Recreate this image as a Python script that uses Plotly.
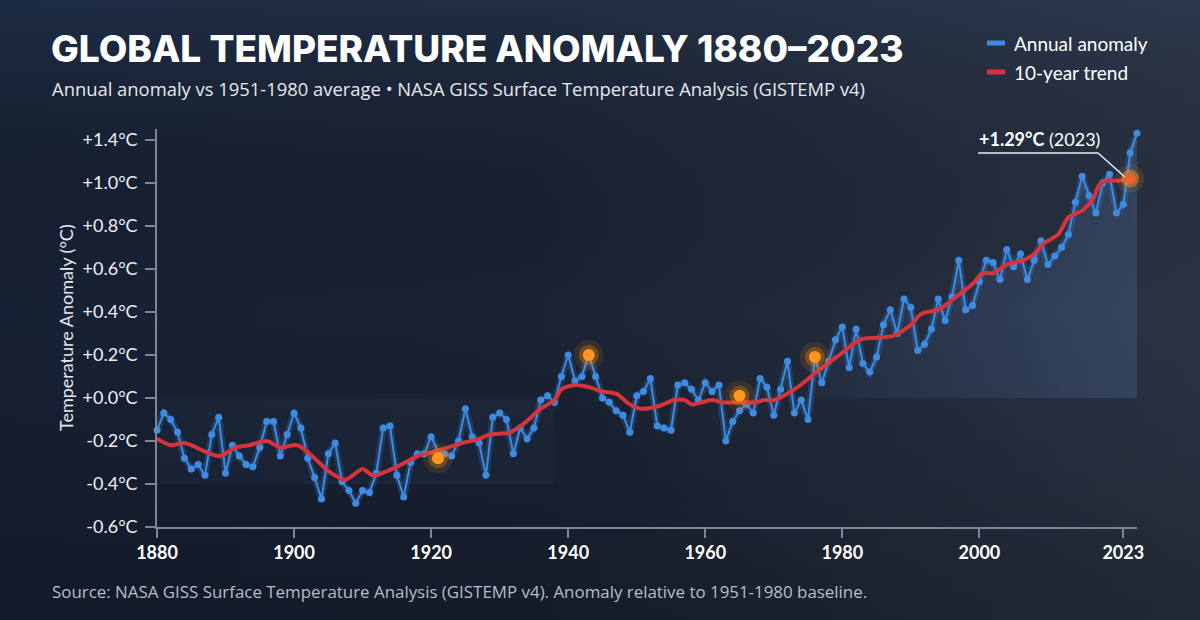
import base64
import plotly.graph_objects as go

# ---------------- data ----------------
years = list(range(1880, 2024))
anomaly = [
    -0.15, -0.07, -0.10, -0.16, -0.28, -0.33, -0.31, -0.36, -0.17, -0.09,   # 1880s
    -0.35, -0.22, -0.27, -0.31, -0.32, -0.23, -0.11, -0.11, -0.27, -0.17,   # 1890s
    -0.07, -0.14, -0.28, -0.37, -0.47, -0.26, -0.21, -0.39, -0.43, -0.49,   # 1900s
    -0.43, -0.44, -0.35, -0.14, -0.13, -0.36, -0.46, -0.30, -0.26, -0.26,   # 1910s
    -0.18, -0.25, -0.26, -0.27, -0.20, -0.05, -0.18, -0.21, -0.36, -0.09,   # 1920s
    -0.07, -0.10, -0.26, -0.14, -0.19, -0.14, -0.01, 0.01, -0.02, 0.10,     # 1930s
    0.20, 0.08, 0.10, 0.20, 0.10, 0.00, -0.02, -0.06, -0.08, -0.16,         # 1940s
    0.01, 0.03, 0.09, -0.13, -0.14, -0.15, 0.06, 0.07, 0.04, -0.01,         # 1950s
    0.07, 0.03, 0.06, -0.20, -0.11, -0.06, -0.03, -0.07, 0.09, 0.05,        # 1960s
    -0.08, 0.04, 0.17, -0.07, -0.01, -0.10, 0.19, 0.07, 0.17, 0.27,         # 1970s
    0.33, 0.14, 0.32, 0.16, 0.12, 0.19, 0.34, 0.41, 0.30, 0.46,             # 1980s
    0.42, 0.22, 0.25, 0.32, 0.46, 0.36, 0.47, 0.64, 0.41, 0.43,             # 1990s
    0.54, 0.64, 0.63, 0.55, 0.69, 0.61, 0.67, 0.55, 0.64, 0.73,             # 2000s
    0.62, 0.66, 0.70, 0.76, 0.91, 1.03, 0.94, 0.86, 1.00, 1.04,             # 2010s
    0.86, 0.90, 1.14, 1.23,                                                 # 2020s
]

trend_years = [1880, 1882, 1884, 1889, 1891.5, 1893.5, 1896, 1898, 1900.5, 1903,
               1905, 1907.5, 1910, 1911.5, 1915, 1918, 1920.5, 1922.5, 1924.5, 1927,
               1928.5, 1931.5, 1933.5, 1936, 1938, 1939, 1941, 1943, 1945, 1947,
               1949, 1950.5, 1953, 1955.5, 1957, 1958, 1959.5, 1961, 1962.5, 1965.5,
               1967.5, 1968.5, 1970, 1972, 1973.5, 1977, 1980, 1982.5, 1985, 1987.5,
               1990, 1991.5, 1994, 1995, 1997, 1999, 2000.5, 2002, 2004, 2006.5,
               2008, 2009.5, 2011.5, 2013, 2015, 2016.5, 2017.5, 2018.5, 2020.5, 2021.5]
trend_values = [-0.19, -0.22, -0.21, -0.27, -0.23, -0.22, -0.20, -0.23, -0.22, -0.28,
                -0.34, -0.38, -0.33, -0.36, -0.32, -0.27, -0.25, -0.23, -0.21, -0.19,
                -0.17, -0.16, -0.12, -0.05, -0.01, 0.04, 0.06, 0.05, 0.03, 0.02,
                -0.03, -0.05, -0.04, -0.01, -0.01, -0.03, -0.02, -0.01, -0.02, -0.02,
                -0.02, -0.01, -0.01, 0.02, 0.05, 0.14, 0.21, 0.27, 0.28, 0.29,
                0.34, 0.39, 0.41, 0.43, 0.48, 0.53, 0.58, 0.58, 0.62, 0.64,
                0.67, 0.72, 0.76, 0.84, 0.87, 0.92, 0.99, 1.01, 1.01, 1.02]

highlight_years = [1921, 1943, 1965, 1976]
highlight_values = [-0.28, 0.20, 0.01, 0.19]
latest_year = [2022]
latest_value = [1.02]

y_tick_vals = [-0.6, -0.4, -0.2, 0.0, 0.2, 0.4, 0.6, 0.8, 1.0, 1.2]
y_tick_text = ["-0.6°C", "-0.4°C", "-0.2°C", "+0.0°C", "+0.2°C", "+0.4°C",
               "+0.6°C", "+0.8°C", "+1.0°C", "+1.4°C"]
x_tick_vals = [1880, 1900, 1920, 1940, 1960, 1980, 2000, 2021]
x_tick_text = ["1880", "1900", "1920", "1940", "1960", "1980", "2000", "2023"]

# ---------------- layout geometry ----------------
W, H = 1200, 620
ML, MR, MT, MB = 157, 63, 129, 93
PW, PH = W - ML - MR, H - MT - MB


def px(x):
    return (x - ML) / PW


def py(y):
    return (H - MB - y) / PH


FONT = "Lato"
BLUE = "#3d8be3"
RED = "#d8333a"
ORANGE = "#ff9620"

# background gradient as svg
svg = f"""<svg xmlns='http://www.w3.org/2000/svg' width='{W}' height='{H}'>
<defs>
<linearGradient id='h' x1='0' y1='0' x2='1' y2='0'>
<stop offset='0' stop-color='#172135'/><stop offset='0.45' stop-color='#1a2334'/>
<stop offset='1' stop-color='#2c3444'/></linearGradient>
<linearGradient id='v' x1='0' y1='0' x2='0' y2='1'>
<stop offset='0' stop-color='#2b3f5c' stop-opacity='0.35'/>
<stop offset='0.5' stop-color='#000000' stop-opacity='0'/>
<stop offset='1' stop-color='#000000' stop-opacity='0.22'/></linearGradient>
</defs>
<rect width='{W}' height='{H}' fill='url(#h)'/>
<rect width='{W}' height='{H}' fill='url(#v)'/>
</svg>"""
bg_uri = "data:image/svg+xml;base64," + base64.b64encode(svg.encode()).decode()

fig = go.Figure()

# soft area under the annual curve (brighter towards the right)
fig.add_trace(go.Scatter(
    x=years, y=anomaly, mode="none", fill="tozeroy",
    fillgradient=dict(type="horizontal", start=1960, stop=2023,
                      colorscale=[[0, "rgba(70,100,150,0)"],
                                  [1, "rgba(80,110,165,0.30)"]]),
    hoverinfo="skip", showlegend=False))

# glow under annual line
fig.add_trace(go.Scatter(
    x=years, y=anomaly, mode="lines",
    line=dict(color="rgba(61,139,227,0.22)", width=7),
    hoverinfo="skip", showlegend=False, cliponaxis=False))

fig.add_trace(go.Scatter(
    x=years, y=anomaly, mode="lines+markers", name="Annual anomaly",
    line=dict(color=BLUE, width=2),
    marker=dict(color=BLUE, size=7),
    showlegend=False, cliponaxis=False))

fig.add_trace(go.Scatter(
    x=trend_years, y=trend_values, mode="lines", name="10-year trend",
    line=dict(color=RED, width=4, shape="spline", smoothing=0.8),
    showlegend=False, cliponaxis=False))

# highlighted years with glow
for size, col in [(30, "rgba(255,140,0,0.12)"), (20, "rgba(255,140,0,0.30)"), (12, ORANGE)]:
    fig.add_trace(go.Scatter(
        x=highlight_years, y=highlight_values, mode="markers",
        marker=dict(color=col, size=size), hoverinfo="skip",
        showlegend=False, cliponaxis=False))
for size, col in [(28, "rgba(255,140,0,0.14)"), (18, "rgba(255,150,30,0.45)"), (11, "#f0602a")]:
    fig.add_trace(go.Scatter(
        x=latest_year, y=latest_value, mode="markers",
        marker=dict(color=col, size=size), hoverinfo="skip",
        showlegend=False, cliponaxis=False))

shapes = [
    # faint band on the left side
    dict(type="rect", xref="x", yref="y", x0=1880, x1=1938, y0=-0.4, y1=0.0,
         fillcolor="rgba(60,80,115,0.11)", line=dict(width=0), layer="below"),
    # legend swatches
    dict(type="line", xref="paper", yref="paper", x0=px(987), x1=px(1005),
         y0=py(43), y1=py(43), line=dict(color=BLUE, width=5)),
    dict(type="line", xref="paper", yref="paper", x0=px(987), x1=px(1005),
         y0=py(72), y1=py(72), line=dict(color=RED, width=5)),
    # callout pointer
    dict(type="path", xref="paper", yref="paper",
         path=f"M {px(978)},{py(153)} L {px(1098)},{py(153)} L {px(1125)},{py(177)}",
         line=dict(color="#e8ecf2", width=1.5)),
]

annotations = [
    dict(text="GLOBAL TEMPERATURE ANOMALY 1880–2023", x=px(49), y=py(48),
         xref="paper", yref="paper", xanchor="left", yanchor="middle", showarrow=False,
         font=dict(family="Inter", size=37, color="#ffffff", weight=800)),
    dict(text="Annual anomaly vs 1951-1980 average • NASA GISS Surface Temperature Analysis (GISTEMP v4)",
         x=px(50), y=py(88), xref="paper", yref="paper", xanchor="left", yanchor="middle",
         showarrow=False, font=dict(family="Open Sans", size=18.4, color="#e6e9ee")),
    dict(text="Source: NASA GISS Surface Temperature Analysis (GISTEMP v4). Anomaly relative to 1951-1980 baseline.",
         x=px(50), y=py(591), xref="paper", yref="paper", xanchor="left", yanchor="middle",
         showarrow=False, font=dict(family="Open Sans", size=16.9, color="#b7bdc7")),
    dict(text="Annual anomaly", x=px(1012), y=py(43), xref="paper", yref="paper",
         xanchor="left", yanchor="middle", showarrow=False,
         font=dict(family=FONT, size=19, color="#ffffff")),
    dict(text="10-year trend", x=px(1012), y=py(72), xref="paper", yref="paper",
         xanchor="left", yanchor="middle", showarrow=False,
         font=dict(family=FONT, size=19, color="#ffffff")),
    dict(text="Temperature Anomaly (°C)", x=px(66), y=py(328), xref="paper", yref="paper",
         xanchor="center", yanchor="middle", textangle=-90, showarrow=False,
         font=dict(family=FONT, size=18, color="#e6e9ee")),
    dict(text="<b>+1.29°C</b> (2023)", x=px(977), y=py(139), xref="paper", yref="paper",
         xanchor="left", yanchor="middle", showarrow=False,
         font=dict(family=FONT, size=18, color="#ffffff")),
]

fig.update_layout(
    width=W, height=H,
    margin=dict(l=ML, r=MR, t=MT, b=MB),
    paper_bgcolor="#1b2333", plot_bgcolor="rgba(0,0,0,0)",
    images=[dict(source=bg_uri, xref="paper", yref="paper", x=px(0), y=py(0),
                 sizex=W / PW, sizey=H / PH, xanchor="left", yanchor="top",
                 sizing="stretch", layer="below")],
    shapes=shapes, annotations=annotations, showlegend=False,
    font=dict(family=FONT, color="#ffffff"),
    xaxis=dict(range=[1880, 2023], showgrid=False, zeroline=False,
               showline=True, linecolor="#7d8696", linewidth=1.5,
               ticks="outside", ticklen=9, tickcolor="#7d8696", tickwidth=1.5,
               tickvals=x_tick_vals, ticktext=x_tick_text,
               tickfont=dict(family=FONT, size=18, color="#ffffff", weight="bold")),
    yaxis=dict(range=[-0.6, 1.25], showgrid=False, zeroline=False,
               showline=True, linecolor="#7d8696", linewidth=1.5,
               ticks="outside", ticklen=10, tickcolor="#7d8696", tickwidth=1.5,
               tickvals=y_tick_vals, ticktext=y_tick_text, ticklabelstandoff=4,
               tickfont=dict(family=FONT, size=18, color="#eef0f4")),
)

fig.write_html("out.html")
